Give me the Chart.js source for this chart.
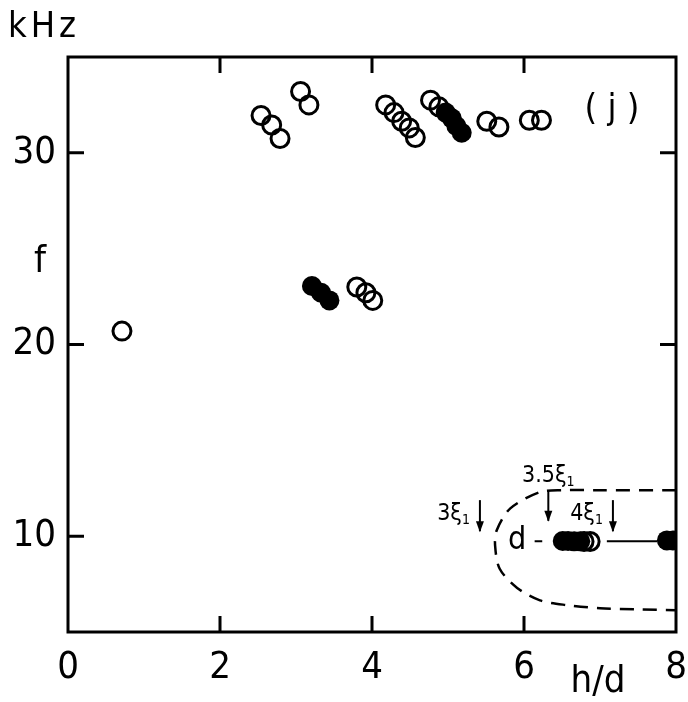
<!DOCTYPE html>
<html>
<head>
<meta charset="utf-8">
<script src="https://cdn.jsdelivr.net/npm/chart.js@4.4.1/dist/chart.umd.min.js"></script>
<style>
  html, body { margin: 0; padding: 0; background: #fff; }
  canvas { display: block; }
</style>
</head>
<body>
<canvas id="chart" width="688" height="702"></canvas>
<script>
// Werte (h/d, f in kHz)
const xTicks = [0, 2, 4, 6, 8];
const yTicks = [10, 20, 30];

// offene Kreise
const openX = [0.71, 2.54, 2.68, 2.79, 3.06, 3.17, 3.80, 3.92, 4.01, 4.18, 4.29, 4.39, 4.49, 4.57, 4.77, 4.88, 5.51, 5.67, 6.07, 6.23, 6.79, 6.87];
const openF = [20.7, 31.95, 31.45, 30.75, 33.2, 32.5, 23.0, 22.7, 22.3, 32.5, 32.1, 31.65, 31.3, 30.8, 32.75, 32.4, 31.65, 31.35, 31.7, 31.7, 9.72, 9.72];

// gefüllte Kreise
const filledX = [3.21, 3.33, 3.44, 4.97, 5.05, 5.11, 5.18, 6.51, 6.58, 6.66, 6.74, 7.88, 7.96];
const filledF = [23.05, 22.7, 22.3, 32.1, 31.8, 31.4, 31.05, 9.75, 9.75, 9.73, 9.73, 9.78, 9.78];

// gestrichelte Kurve um den Bereich d
const curveX = [8.0, 7.0, 6.5, 6.21, 5.82, 5.64, 5.62, 5.68, 5.91, 6.21, 6.57, 7.0, 7.5, 8.0];
const curveF = [12.4, 12.4, 12.4, 12.3, 11.45, 10.3, 9.5, 8.3, 7.3, 6.65, 6.4, 6.24, 6.18, 6.14];

// Pfeile: Lage auf h/d, von f oben nach f unten
const arrowX = [5.42, 6.32, 7.17];
const arrowTop = [11.88, 12.4, 11.88];
const arrowBottom = [10.26, 10.8, 10.26];
const arrowText = ["3", "3.5", "4"];

const FONT = '"DejaVu Sans Condensed", "DejaVu Sans", sans-serif';

function toPoints(xs, ys) {
  return xs.map((x, i) => ({ x: x, y: ys[i] }));
}

// Rahmen, Striche nach innen und Beschriftungen
const framePlugin = {
  id: "frame",
  afterDraw(chart) {
    const ctx = chart.ctx;
    const a = chart.chartArea;
    const sx = chart.scales.x;
    const sy = chart.scales.y;
    ctx.save();
    ctx.strokeStyle = "#000";
    ctx.fillStyle = "#000";
    ctx.lineWidth = 3;
    ctx.strokeRect(a.left, a.top, a.right - a.left, a.bottom - a.top);

    const tl = 16;
    ctx.beginPath();
    xTicks.slice(1, -1).forEach(v => {
      const px = sx.getPixelForValue(v);
      ctx.moveTo(px, a.bottom); ctx.lineTo(px, a.bottom - tl);
      ctx.moveTo(px, a.top); ctx.lineTo(px, a.top + tl);
    });
    yTicks.forEach(v => {
      const py = sy.getPixelForValue(v);
      ctx.moveTo(a.left, py); ctx.lineTo(a.left + tl, py);
      ctx.moveTo(a.right, py); ctx.lineTo(a.right - tl, py);
    });
    ctx.stroke();

    // kurze Linien bei d
    ctx.lineWidth = 2;
    const yd = sy.getPixelForValue(9.74);
    ctx.beginPath();
    ctx.moveTo(sx.getPixelForValue(6.14), yd); ctx.lineTo(sx.getPixelForValue(6.24), yd);
    ctx.moveTo(sx.getPixelForValue(7.09), yd); ctx.lineTo(sx.getPixelForValue(7.75), yd);
    ctx.stroke();

    // Pfeile mit xi-Beschriftung
    arrowX.forEach((v, i) => {
      const px = sx.getPixelForValue(v);
      const y0 = sy.getPixelForValue(arrowTop[i]);
      const y1 = sy.getPixelForValue(arrowBottom[i]);
      ctx.lineWidth = 2;
      ctx.beginPath();
      ctx.moveTo(px, y0); ctx.lineTo(px, y1);
      ctx.stroke();
      ctx.beginPath();
      ctx.moveTo(px - 4, y1 - 10); ctx.lineTo(px, y1 + 1); ctx.lineTo(px + 4, y1 - 10);
      ctx.closePath();
      ctx.fill();

      ctx.font = "23px " + FONT;
      ctx.textBaseline = "alphabetic";
      const main = arrowText[i] + "ξ";
      const wMain = ctx.measureText(main).width;
      ctx.font = "14px " + FONT;
      const wSub = ctx.measureText("1").width;
      let tx, ty;
      if (i === 1) {
        tx = px - (wMain + wSub) / 2;
        ty = y0 - 8;
      } else {
        tx = px - 10 - wMain - wSub;
        ty = y0 + 20;
      }
      ctx.font = "23px " + FONT;
      ctx.fillText(main, tx, ty);
      ctx.font = "14px " + FONT;
      ctx.fillText("1", tx + wMain, ty + 4);
    });

    // d
    ctx.font = "32px " + FONT;
    ctx.textAlign = "center";
    ctx.textBaseline = "middle";
    ctx.fillText("d", sx.getPixelForValue(5.91), yd);

    // Achsentitel und Kennzeichnung
    ctx.font = "38px " + FONT;
    ctx.fillText("f", 40, 262);
    ctx.fillText("h/d", 598, 682);
    ctx.font = "36px " + FONT;
    ctx.fillText("( j )", 612, 110);
    ctx.textAlign = "left";
    ctx.textBaseline = "alphabetic";
    ctx.letterSpacing = "4px";
    ctx.fillText("kHz", 8, 37);
    ctx.restore();
  }
};

new Chart(document.getElementById("chart"), {
  type: "scatter",
  data: {
    datasets: [
      {
        label: "gefüllt",
        data: toPoints(filledX, filledF),
        pointRadius: 10,
        pointBorderWidth: 0,
        backgroundColor: "#000",
        borderColor: "#000",
      },
      {
        label: "offen",
        data: toPoints(openX, openF),
        pointRadius: 9,
        pointBorderWidth: 3,
        backgroundColor: "rgba(0,0,0,0)",
        borderColor: "#000",
      },
      {
        label: "Kurve",
        type: "line",
        data: toPoints(curveX, curveF),
        showLine: true,
        pointRadius: 0,
        borderWidth: 2.5,
        borderColor: "#000",
        borderDash: [14, 9],
        tension: 0.3,
        fill: false,
      },
    ],
  },
  options: {
    responsive: false,
    animation: false,
    layout: { padding: { top: 57, right: 11, left: 0, bottom: 0 } },
    plugins: { legend: { display: false }, tooltip: { enabled: false } },
    scales: {
      x: {
        type: "linear",
        min: 0,
        max: 8,
        afterBuildTicks: s => { s.ticks = xTicks.map(v => ({ value: v })); },
        ticks: { color: "#000", font: { family: FONT, size: 38 }, padding: 5, maxRotation: 0 },
        grid: { display: false },
        border: { display: false },
        afterFit: s => { s.height = 70; s.paddingLeft = 0; s.paddingRight = 0; },
      },
      y: {
        type: "linear",
        min: 5,
        max: 35,
        afterBuildTicks: s => { s.ticks = yTicks.map(v => ({ value: v })); },
        ticks: { color: "#000", font: { family: FONT, size: 38 }, padding: 4 },
        grid: { display: false },
        border: { display: false },
        afterFit: s => { s.width = 68; },
      },
    },
  },
  plugins: [framePlugin],
});
</script>
</body>
</html>
